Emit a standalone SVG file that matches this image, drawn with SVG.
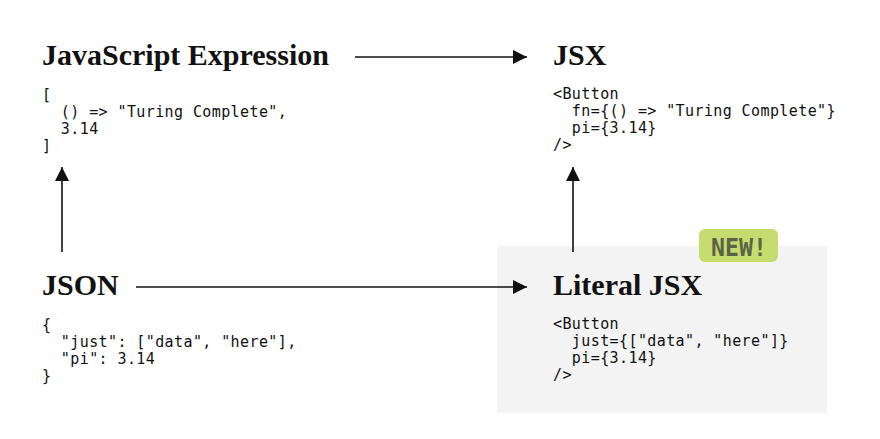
<svg xmlns="http://www.w3.org/2000/svg" width="880" height="439" viewBox="0 0 880 439">
  <defs>
    <marker id="arrow" viewBox="0 0 14 14" refX="14" refY="7" markerWidth="14" markerHeight="14" markerUnits="userSpaceOnUse" orient="auto">
      <path d="M0,0 L14,7 L0,14 Z" fill="#111"/>
    </marker>
    <style>
      .title { font-family: "Liberation Serif", "Times New Roman", serif; font-weight: bold; font-size: 30px; fill: #111; }
      .code { font-family: "DejaVu Sans Mono", "Liberation Mono", monospace; font-size: 15px; letter-spacing: 0.4px; fill: #111; white-space: pre; }
      .edge { stroke: #111; stroke-width: 1.6; fill: none; }
      .badge-text { font-family: "DejaVu Sans Mono", "Liberation Mono", monospace; font-size: 24px; font-weight: bold; fill: #5c6346; }
    </style>
  </defs>
  <rect width="880" height="439" fill="#ffffff"/>

  <g id="literal-jsx-bg">
    <rect x="497" y="246" width="330" height="167" fill="#f3f3f3"/>
  </g>

  <g id="connectors">
    <line class="edge" x1="355" y1="57" x2="527" y2="57" marker-end="url(#arrow)"/>
    <line class="edge" x1="136" y1="287" x2="527" y2="287" marker-end="url(#arrow)"/>
    <line class="edge" x1="62" y1="252" x2="62" y2="167" marker-end="url(#arrow)"/>
    <line class="edge" x1="573" y1="252" x2="573" y2="167" marker-end="url(#arrow)"/>
  </g>

  <g id="js-expression">
    <text class="title" x="42" y="65">JavaScript Expression</text>
    <text class="code" x="42" y="100" xml:space="preserve">[</text>
    <text class="code" x="42" y="117" xml:space="preserve">  () =&gt; "Turing Complete",</text>
    <text class="code" x="42" y="134" xml:space="preserve">  3.14</text>
    <text class="code" x="42" y="151" xml:space="preserve">]</text>
  </g>

  <g id="jsx">
    <text class="title" x="553" y="65">JSX</text>
    <text class="code" x="553" y="99" xml:space="preserve">&lt;Button</text>
    <text class="code" x="553" y="116" xml:space="preserve">  fn={() =&gt; "Turing Complete"}</text>
    <text class="code" x="553" y="133" xml:space="preserve">  pi={3.14}</text>
    <text class="code" x="553" y="150" xml:space="preserve">/&gt;</text>
  </g>

  <g id="json">
    <text class="title" x="42" y="295">JSON</text>
    <text class="code" x="42" y="330" xml:space="preserve">{</text>
    <text class="code" x="42" y="347" xml:space="preserve">  "just": ["data", "here"],</text>
    <text class="code" x="42" y="364" xml:space="preserve">  "pi": 3.14</text>
    <text class="code" x="42" y="381" xml:space="preserve">}</text>
  </g>

  <g id="literal-jsx">
    <text class="title" x="553" y="295">Literal JSX</text>
    <text class="code" x="553" y="329" xml:space="preserve">&lt;Button</text>
    <text class="code" x="553" y="346" xml:space="preserve">  just={["data", "here"]}</text>
    <text class="code" x="553" y="363" xml:space="preserve">  pi={3.14}</text>
    <text class="code" x="553" y="380" xml:space="preserve">/&gt;</text>
  </g>

  <g id="new-badge">
    <rect x="699" y="229" width="79" height="33" rx="6" ry="6" fill="#c6dc6e"/>
    <text class="badge-text" x="711" y="256" textLength="56" lengthAdjust="spacingAndGlyphs">NEW!</text>
  </g>
</svg>
